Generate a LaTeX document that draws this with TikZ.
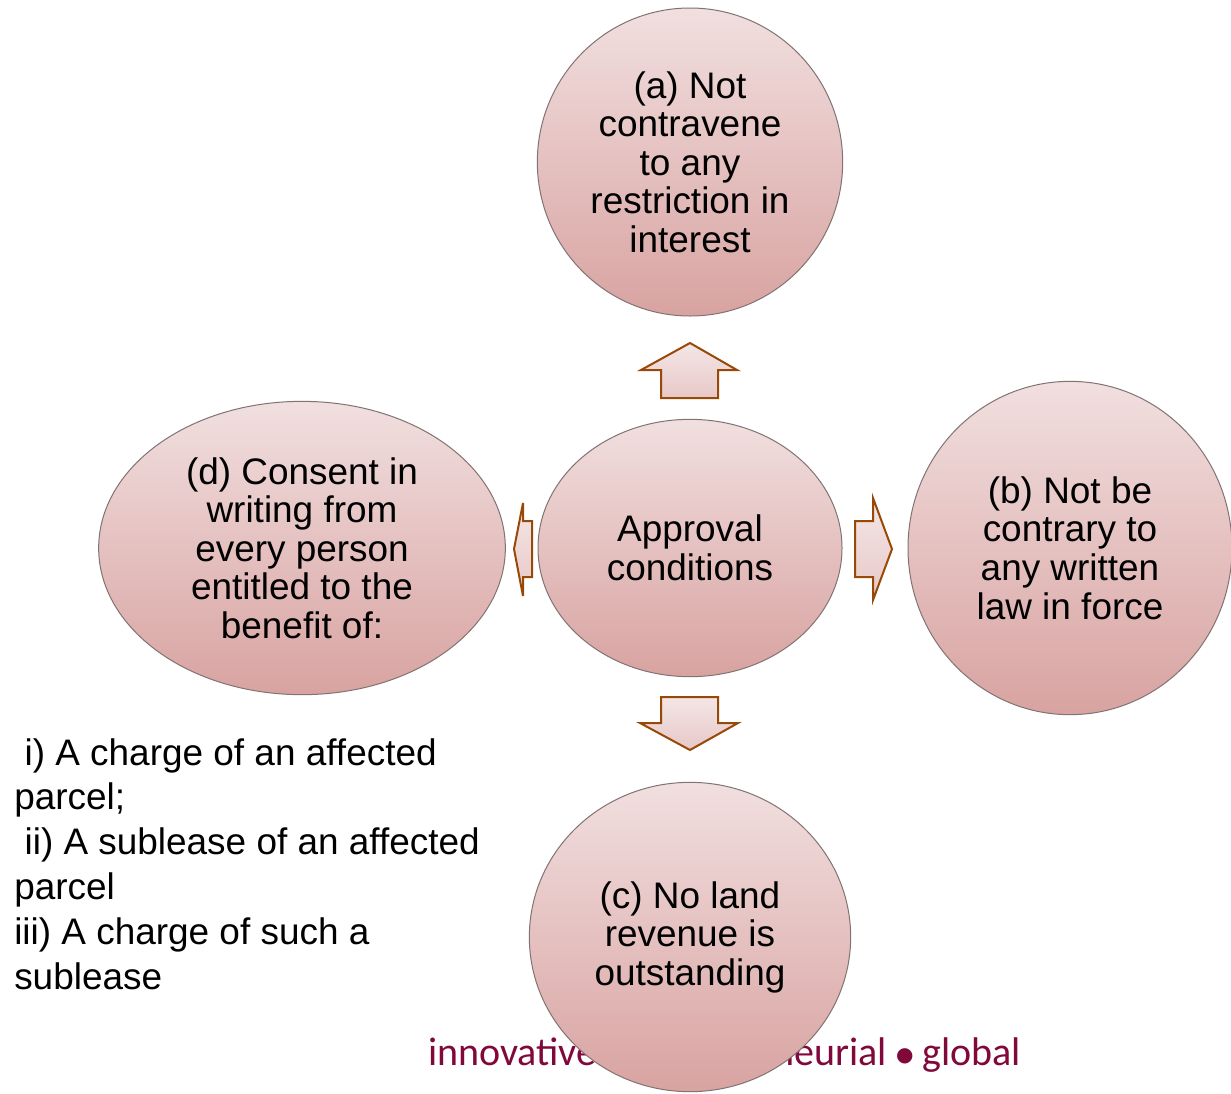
\documentclass[tikz,border=0pt]{standalone}
\usepackage{fontspec}
\setmainfont{Liberation Sans}
\newfontfamily\footfont{Carlito}
\newfontfamily\dotfont{DejaVu Sans}
\usetikzlibrary{shapes.geometric}

\definecolor{bubbletop}{RGB}{241,223,223}
\definecolor{bubblebot}{RGB}{216,163,161}
\definecolor{bubbleline}{RGB}{130,115,115}
\definecolor{arrowline}{RGB}{152,72,7}
\definecolor{arrowtop}{RGB}{244,230,230}
\definecolor{arrowbot}{RGB}{232,200,200}
\definecolor{tagmaroon}{RGB}{128,8,58}

\newcommand{\tagdot}{\raisebox{2.5pt}{\dotfont\fontsize{15}{16}\selectfont ●}}

\begin{document}
\begin{tikzpicture}[x=0.75pt, y=-0.75pt,
    bubble/.style={ellipse, draw=bubbleline, line width=0.75pt,
      top color=bubbletop, bottom color=bubblebot, inner sep=0pt,
      align=center, font=\fontsize{27.7}{28.9}\selectfont},
    blockarrow/.style={draw=arrowline, line width=1.5pt, line join=miter,
      top color=arrowtop, bottom color=arrowbot}]

        \useasboundingbox (0,0) rectangle (1231,1093);
        \fill [white] (0,0) rectangle (1231,1093);                        %page

        % tagline first, the lower bubble sits on top of it
        \node [anchor=base west, inner sep=0pt, text=tagmaroon,
               font=\footfont\fontsize{30}{32}\selectfont] (tagline) at (428,1065)
              {innovative \tagdot{} entrepreneurial \tagdot{} global};

        \node [bubble, minimum width=229pt, minimum height=231pt] (restrict) at (690,162)
              {(a) Not\\contravene\\to any\\restriction in\\interest};
        \node [bubble, minimum width=228pt, minimum height=193pt] (approval) at (690,548)
              {Approval\\conditions};
        \node [bubble, minimum width=243pt, minimum height=250pt] (writtenlaw) at (1070,548)
              {(b) Not be\\contrary to\\any written\\law in force};
        \node [bubble, minimum width=241pt, minimum height=232pt] (revenue) at (690,937)
              {(c) No land\\revenue is\\outstanding};
        \node [bubble, minimum width=305pt, minimum height=220pt] (consent) at (302,548)
              {(d) Consent in\\writing from\\every person\\entitled to the\\benefit of:};

        \draw [blockarrow] (690,343) -- (737,370) -- (718,370) -- (718,398)
              -- (661,398) -- (661,370) -- (641,370) -- cycle;              %up
        \draw [blockarrow] (892,549) -- (873,600) -- (873,577) -- (855,577)
              -- (855,521) -- (873,521) -- (873,498) -- cycle;              %right
        \draw [blockarrow] (690,750) -- (738,723) -- (718,723) -- (718,697)
              -- (661,697) -- (661,723) -- (640,723) -- cycle;              %down
        \draw [blockarrow] (514,549) -- (523,503) -- (523,521) -- (532,521)
              -- (532,577) -- (523,577) -- (523,596) -- cycle;              %left

        \node [anchor=north west, inner sep=0pt, align=left,
               font=\fontsize{27.7}{33.6}\selectfont] (parcels) at (14,738)
              {\hspace*{0.28em}i) A charge of an affected\\parcel;\\
               \hspace*{0.28em}ii) A sublease of an affected\\parcel\\
               iii) A charge of such a\\sublease};
\end{tikzpicture}
\end{document}
